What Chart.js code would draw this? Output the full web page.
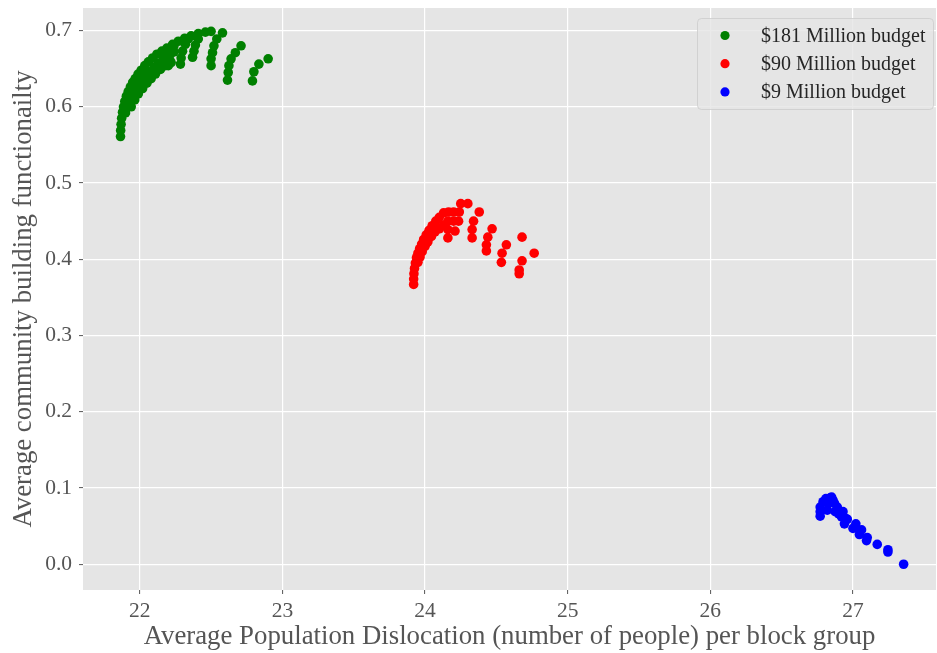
<!DOCTYPE html>
<html>
<head>
<meta charset="utf-8">
<script src="https://cdn.jsdelivr.net/npm/chart.js@4"></script>
<style>
  html, body { margin: 0; padding: 0; background: #ffffff; }
  #wrap { width: 937px; height: 653px; }
  canvas { display: block; }
</style>
</head>
<body>
<div id="wrap"><canvas id="c" width="937" height="653"></canvas></div>
<script>
// Budget scenarios: dislocation (x) vs. building functionality (y)
const seriesLabels = ['$181 Million budget', '$90 Million budget', '$9 Million budget'];
const seriesColors = ['#008000', '#ff0000', '#0000ff'];

const highX = [21.865,21.866,21.869,21.873,21.879,21.886,21.895,21.906,21.919,21.934,21.95,21.968,21.988,22.01,22.035,22.06,22.09,22.12,22.155,22.19,22.23,22.27,22.315,22.36,22.41,22.46,22.5,
  21.90,21.915,21.93,21.948,21.968,21.99,22.015,22.04,22.07,22.10,22.13,22.165,22.20,22.24,
  21.94,21.965,21.99,22.02,22.05,22.08,22.11,22.145,22.18,22.22,
  22.20,22.21,22.225,22.24,
  22.285,22.29,22.30,22.32,22.34,
  22.37,22.38,22.39,22.41,
  22.50,22.50,22.51,22.52,22.54,22.58,
  22.615,22.62,22.625,22.64,22.67,22.71,
  22.79,22.80,22.835,22.90];
const highY = [0.561,0.569,0.577,0.585,0.593,0.600,0.607,0.614,0.620,0.626,0.632,0.637,0.643,0.648,0.654,0.659,0.664,0.669,0.673,0.677,0.682,0.686,0.690,0.693,0.696,0.698,0.699,
  0.592,0.600,0.607,0.614,0.621,0.628,0.634,0.640,0.646,0.652,0.657,0.662,0.667,0.672,
  0.600,0.609,0.617,0.624,0.631,0.637,0.643,0.649,0.654,0.658,
  0.654,0.662,0.671,0.680,
  0.656,0.664,0.673,0.682,0.689,
  0.665,0.673,0.681,0.689,
  0.654,0.663,0.671,0.680,0.689,0.697,
  0.635,0.645,0.654,0.663,0.671,0.680,
  0.634,0.646,0.656,0.663];

const midX = [23.92,23.92,23.922,23.926,23.932,23.94,23.95,23.962,23.976,23.99,24.008,24.028,24.05,24.075,24.10,24.13,24.165,24.20,24.25,24.30,
  23.95,23.965,23.98,24.0,24.02,24.045,24.07,24.10,24.13,24.16,24.20,
  24.16,24.16,24.21,24.235,24.24,
  24.33,24.33,24.34,24.38,
  24.43,24.43,24.44,24.47,
  24.535,24.54,24.57,
  24.66,24.66,24.68,24.68,
  24.765];
const midY = [0.367,0.374,0.381,0.388,0.395,0.402,0.408,0.414,0.420,0.426,0.432,0.438,0.444,0.450,0.455,0.461,0.462,0.462,0.473,0.473,
  0.396,0.403,0.410,0.417,0.423,0.430,0.436,0.440,0.445,0.450,0.450,
  0.428,0.439,0.437,0.450,0.462,
  0.428,0.439,0.450,0.462,
  0.411,0.419,0.429,0.440,
  0.396,0.408,0.419,
  0.381,0.386,0.398,0.429,
  0.408];

const lowX = [27.355,27.245,27.245,27.17,27.10,27.095,27.06,27.045,27.02,27.00,26.96,26.94,26.93,26.92,26.89,26.875,26.85,26.86,26.87,26.81,26.79,26.77,26.77,26.77,26.82,26.84,26.83,26.90,26.95];
const lowY = [0.000,0.016,0.019,0.026,0.035,0.031,0.045,0.039,0.053,0.047,0.059,0.053,0.069,0.062,0.075,0.069,0.088,0.084,0.080,0.086,0.082,0.075,0.069,0.063,0.071,0.087,0.080,0.066,0.060];

const xTicks = [22, 23, 24, 25, 26, 27];
const yTicks = [0.0, 0.1, 0.2, 0.3, 0.4, 0.5, 0.6, 0.7];

const xTitle = 'Average Population Dislocation (number of people) per block group';
const yTitle = 'Average community building functionailty';

const SERIF = '"Liberation Serif", "Times New Roman", serif';

function toPoints(xs, ys) { return xs.map((x, i) => ({ x: x, y: ys[i] })); }

const plotBackground = {
  id: 'plotBackground',
  beforeDraw(chart) {
    const { ctx, chartArea: a } = chart;
    ctx.save();
    ctx.fillStyle = '#e5e5e5';
    ctx.fillRect(a.left, a.top, a.right - a.left, a.bottom - a.top);
    ctx.restore();
  }
};

// Legend box drawn inside the upper right of the plot
const insetLegend = {
  id: 'insetLegend',
  afterDatasetsDraw(chart) {
    const ctx = chart.ctx;
    const a = chart.chartArea;
    const boxRight = a.right - 3, boxTop = a.top + 10;
    const boxW = 236, boxH = 91;
    const x0 = boxRight - boxW, y0 = boxTop;
    ctx.save();
    ctx.beginPath();
    ctx.roundRect(x0 + 0.5, y0 + 0.5, boxW, boxH, 4);
    ctx.fillStyle = 'rgba(229,229,229,0.8)';
    ctx.fill();
    ctx.strokeStyle = 'rgba(204,204,204,0.8)';
    ctx.lineWidth = 1;
    ctx.stroke();
    ctx.font = '20px ' + SERIF;
    ctx.textBaseline = 'middle';
    ctx.textAlign = 'left';
    chart.data.datasets.forEach((ds, i) => {
      const cy = y0 + 17.5 + i * 28.2;
      ctx.beginPath();
      ctx.arc(x0 + 28, cy, 4.6, 0, Math.PI * 2);
      ctx.fillStyle = ds.backgroundColor;
      ctx.fill();
      ctx.fillStyle = '#262626';
      ctx.fillText(ds.label, x0 + 64, cy + 1);
    });
    ctx.restore();
  }
};

new Chart(document.getElementById('c'), {
  type: 'scatter',
  data: {
    datasets: [
      { label: seriesLabels[0], data: toPoints(highX, highY), backgroundColor: seriesColors[0] },
      { label: seriesLabels[1], data: toPoints(midX, midY), backgroundColor: seriesColors[1] },
      { label: seriesLabels[2], data: toPoints(lowX, lowY), backgroundColor: seriesColors[2] }
    ]
  },
  options: {
    responsive: false,
    animation: false,
    devicePixelRatio: 1,
    layout: { autoPadding: false, padding: { top: 8, right: 1, bottom: 0, left: 0 } },
    elements: { point: { radius: 4.8, borderWidth: 0, hoverRadius: 4.8 } },
    plugins: { legend: { display: false }, tooltip: { enabled: false } },
    scales: {
      x: {
        type: 'linear',
        min: 21.602,
        max: 27.582,
        afterFit(s) { s.height = 63; s.paddingLeft = 0; s.paddingRight = 0; },
        afterBuildTicks(s) { s.ticks = xTicks.map(v => ({ value: v })); },
        border: { display: false },
        grid: { color: '#ffffff', lineWidth: 1.2, tickColor: '#555555', tickLength: 4, tickWidth: 1 },
        ticks: {
          color: '#555555',
          padding: 4,
          font: { family: SERIF, size: 21.5 },
          callback: v => String(v)
        },
        title: {
          display: true,
          text: xTitle,
          color: '#555555',
          font: { family: SERIF, size: 26.8 },
          padding: { top: 0, bottom: 0 }
        }
      },
      y: {
        type: 'linear',
        min: -0.0338,
        max: 0.7296,
        afterFit(s) { s.width = 83; s.paddingTop = 0; s.paddingBottom = 0; },
        afterBuildTicks(s) { s.ticks = yTicks.map(v => ({ value: v })); },
        border: { display: false },
        grid: { color: '#ffffff', lineWidth: 1.2, tickColor: '#555555', tickLength: 4, tickWidth: 1 },
        ticks: {
          color: '#555555',
          padding: 7,
          font: { family: SERIF, size: 21.5 },
          callback: v => v.toFixed(1)
        },
        title: {
          display: true,
          text: yTitle,
          color: '#555555',
          font: { family: SERIF, size: 26.8 },
          padding: { top: 8, bottom: 0 }
        }
      }
    }
  },
  plugins: [plotBackground, insetLegend]
});
</script>
</body>
</html>
